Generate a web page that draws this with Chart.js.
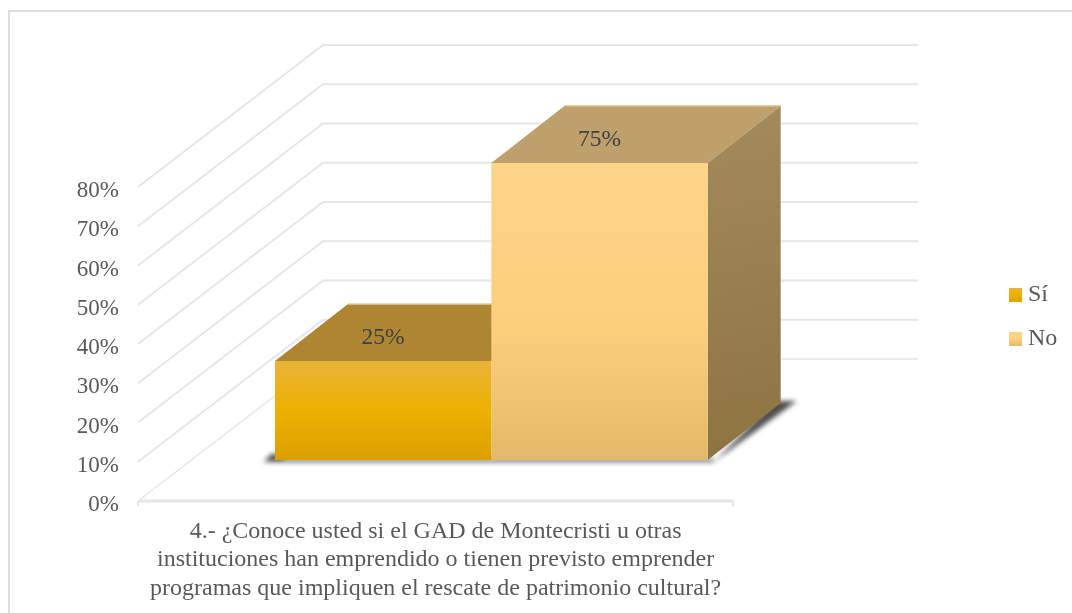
<!DOCTYPE html>
<html>
<head>
<meta charset="utf-8">
<script src="https://cdn.jsdelivr.net/npm/chart.js@4"></script>
<style>
  html, body { margin: 0; background: #fff; overflow: hidden; }
  #wrap { position: relative; width: 1072px; height: 613px; overflow: hidden; }
  #frame { position: absolute; left: 8px; top: 10px; width: 1100px; height: 640px; border: 2px solid #dedede; box-sizing: border-box; }
  canvas { position: absolute; left: 0; top: 0; }
</style>
</head>
<body>
<div id="wrap">
  <div id="frame"></div>
  <canvas id="chart" width="1072" height="613"></canvas>
</div>
<script>
const categories = [[
  '4.- ¿Conoce usted si el GAD de Montecristi u otras',
  'instituciones han emprendido o tienen previsto emprender',
  'programas que impliquen el rescate de patrimonio cultural?'
]];
const seriesNames = ['Sí', 'No'];
const siValues = [25];
const noValues = [75];
const yTicks = [0, 10, 20, 30, 40, 50, 60, 70, 80];

const FONT = '"Liberation Serif"';

// colores de cada serie: frente, tapa y costado
const frontStops = [
  [[0, '#e9b33a'], [0.5, '#ecb100'], [1, '#dba000']],
  [[0, '#fdd488'], [0.55, '#fbcf7c'], [1, '#e3b868']]
];
const topColors = ['#ae8533', '#bea06c'];
const edgeColors = ['#e2cba8', '#d9bd85'];

// proyeccion de la caja: fondo de la pared y plano de las barras
const wallDx = 185, wallDy = -142;
const barDx = 55.75, barBase = 460, barScale = 1.009;
const topDx = 73, topDy = -57;

function frontFill(i) {
  return c => {
    const y = c.chart.scales.y;
    if (!y || c.raw === undefined) return frontStops[i][1][1];
    const g = c.chart.ctx.createLinearGradient(0, y.getPixelForValue(c.raw), 0, y.getPixelForValue(0));
    frontStops[i].forEach(s => g.addColorStop(s[0], s[1]));
    return g;
  };
}

// cuadrito de la leyenda con el mismo degradado
function swatch(i) {
  const c = document.createElement('canvas');
  c.width = 13;
  c.height = 14;
  const x = c.getContext('2d');
  const g = x.createLinearGradient(0, 0, 0, 14);
  frontStops[i].forEach(s => g.addColorStop(s[0], s[1]));
  x.fillStyle = g;
  x.fillRect(0, 0, 13, 14);
  return c;
}

function poly(ctx, pts, fill) {
  ctx.beginPath();
  pts.forEach((p, i) => i ? ctx.lineTo(p[0], p[1]) : ctx.moveTo(p[0], p[1]));
  ctx.closePath();
  ctx.fillStyle = fill;
  ctx.fill();
}

// paredes, piso y sombra debajo de las barras
const walls = {
  id: 'walls',
  beforeDraw(chart) {
    // las etiquetas del eje quedan un poco mas abajo que la linea
    chart.scales.y.getLabelItems().forEach(item => { item.textOffset += 4; });
  },
  beforeDatasetsDraw(chart) {
    const ctx = chart.ctx, y = chart.scales.y, a = chart.chartArea;
    ctx.save();
    ctx.lineCap = 'butt';
    yTicks.forEach(v => {
      const py = y.getPixelForValue(v);
      ctx.beginPath();
      ctx.moveTo(a.left, py);
      ctx.lineTo(a.left + wallDx, py + wallDy);
      ctx.lineTo(a.right + wallDx, py + wallDy);
      ctx.strokeStyle = '#e6e6e6';
      ctx.lineWidth = v === 0 ? 1.5 : 2;
      ctx.stroke();
    });
    // linea de piso con sus marcas
    const py0 = y.getPixelForValue(0);
    ctx.strokeStyle = '#e5e5e5';
    ctx.lineWidth = 3;
    ctx.beginPath();
    ctx.moveTo(a.left, py0);
    ctx.lineTo(a.right, py0);
    ctx.stroke();
    ctx.lineWidth = 2;
    ctx.beginPath();
    ctx.moveTo(a.left, py0);
    ctx.lineTo(a.left, py0 + 5);
    ctx.moveTo(a.right, py0);
    ctx.lineTo(a.right, py0 + 6);
    ctx.stroke();

    // sombra: franja de abajo y diagonal del costado
    const m0 = chart.getDatasetMeta(0).data[0], m1 = chart.getDatasetMeta(1).data[0];
    const l = m0.x - m0.width / 2 + barDx, r = m1.x + m1.width / 2 + barDx;
    ctx.filter = 'blur(2.5px)';
    poly(ctx, [[l - 11, barBase + 2], [r + 6, barBase + 2], [r + 6, barBase - 1], [l + 8, barBase - 1], [l + 8, barBase - 6], [l - 4, barBase - 6]], '#555555');
    poly(ctx, [[r + 12, barBase - 4], [r + 6, barBase + 2], [r + topDx + 16, barBase + topDy - 2], [r + topDx - 6, barBase + topDy - 2]], '#4d4d4d');
    ctx.filter = 'none';
    ctx.restore();

    // caras de arriba y costado
    const fy = v => barBase + (y.getPixelForValue(v) - y.getPixelForValue(0)) * barScale;
    [m0, m1].forEach((m, i) => {
      const v = i ? noValues[0] : siValues[0];
      const x0 = m.x - m.width / 2 + barDx, x1 = m.x + m.width / 2 + barDx, t = fy(v);
      poly(ctx, [[x0, t], [x1, t], [x1 + topDx, t + topDy], [x0 + topDx, t + topDy]], topColors[i]);
      ctx.strokeStyle = edgeColors[i];
      ctx.lineWidth = 1.5;
      ctx.beginPath();
      ctx.moveTo(x0 + topDx, t + topDy);
      ctx.lineTo(x1 + topDx, t + topDy);
      ctx.stroke();
    });
    const x1 = m1.x + m1.width / 2 + barDx, t = fy(noValues[0]);
    const g = ctx.createLinearGradient(x1, t + topDy, x1 + topDx, barBase);
    g.addColorStop(0, '#a38b5c');
    g.addColorStop(1, '#8d7340');
    poly(ctx, [[x1, t], [x1 + topDx, t + topDy], [x1 + topDx, barBase + topDy], [x1, barBase]], g);

    // las barras de Chart.js quedan en el plano de adelante
    ctx.save();
    ctx.translate(barDx, barBase);
    ctx.scale(1, barScale);
    ctx.translate(0, -y.getPixelForValue(0));
  },
  afterDatasetsDraw(chart) {
    const ctx = chart.ctx, y = chart.scales.y;
    ctx.restore();
    const fy = v => barBase + (y.getPixelForValue(v) - y.getPixelForValue(0)) * barScale;
    ctx.save();
    ctx.font = '23.5px ' + FONT;
    ctx.fillStyle = '#404040';
    ctx.textAlign = 'center';
    ctx.textBaseline = 'middle';
    chart.data.datasets.forEach((d, i) => {
      const m = chart.getDatasetMeta(i).data[0];
      ctx.fillText(d.data[0] + '%', m.x + barDx, fy(d.data[0]) + topDy / 2 + 5.5);
    });
    ctx.restore();
  },
  afterLayout(chart) {
    // leyenda fuera del plano, a la derecha
    const lg = chart.legend;
    lg.left = 995;
    lg.right = 1072;
    lg.top -= 83;
    lg.bottom -= 83;
  }
};

new Chart(document.getElementById('chart'), {
  type: 'bar',
  data: {
    labels: categories,
    datasets: [
      { label: seriesNames[0], data: siValues, backgroundColor: frontFill(0), borderWidth: 0 },
      { label: seriesNames[1], data: noValues, backgroundColor: frontFill(1), borderWidth: 0 }
    ]
  },
  options: {
    responsive: false,
    animation: false,
    layout: { padding: { left: 60, right: 266.5, top: 187, bottom: 0 } },
    datasets: { bar: { categoryPercentage: 0.727, barPercentage: 1 } },
    plugins: {
      tooltip: { enabled: false },
      legend: {
        position: 'right',
        labels: {
          color: '#595959',
          font: { family: FONT, size: 24 },
          usePointStyle: true,
          pointStyleWidth: 1,
          padding: 20,
          generateLabels() {
            return seriesNames.map((name, i) => ({
              text: name,
              fontColor: '#595959',
              pointStyle: swatch(i),
              lineWidth: 0,
              datasetIndex: i
            }));
          }
        }
      }
    },
    scales: {
      x: {
        grid: { display: false },
        border: { display: false },
        afterFit(s) { s.height = 112; },
        ticks: {
          color: '#595959',
          padding: 8,
          maxRotation: 0,
          autoSkip: false,
          font: { family: FONT, size: 24, lineHeight: 1.2 }
        }
      },
      y: {
        min: 0,
        max: 80,
        grid: { display: false },
        border: { display: false },
        afterFit(s) { s.width = 78; },
        ticks: {
          stepSize: 10,
          color: '#595959',
          padding: 11,
          font: { family: FONT, size: 23 },
          callback: v => v + '%'
        }
      }
    }
  },
  plugins: [walls]
});
</script>
</body>
</html>
